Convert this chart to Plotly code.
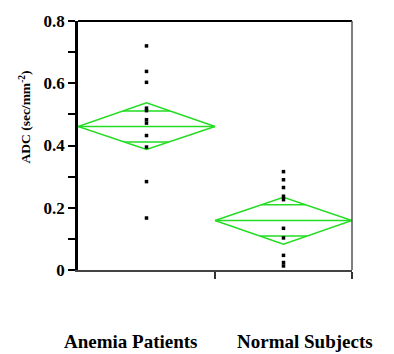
import plotly.graph_objects as go

groups = ["Anemia Patients", "Normal Subjects"]
group_pos = [0.5, 1.5]
anemia_adc = [0.720, 0.638, 0.603, 0.520, 0.512, 0.483, 0.472, 0.432, 0.395, 0.284, 0.167]
normal_adc = [0.316, 0.290, 0.265, 0.237, 0.226, 0.134, 0.103, 0.047, 0.024, 0.013]
means = [0.461, 0.159]
ci_upper = [0.537, 0.234]
ci_lower = [0.387, 0.083]
overlap_hi = [0.511, 0.210]
overlap_lo = [0.411, 0.109]
y_tickvals = [0, 0.1, 0.2, 0.3, 0.4, 0.5, 0.6, 0.7, 0.8]
y_ticktext = ["0", " ", "0.2", " ", "0.4", " ", "0.6", " ", "0.8"]

GREEN = "rgb(34,221,34)"
FONT = "Liberation Serif"

fig = go.Figure()

half_w = 0.5
for i, pos in enumerate(group_pos):
    m, hi, lo = means[i], ci_upper[i], ci_lower[i]
    fig.add_trace(go.Scatter(
        x=[pos - half_w, pos, pos + half_w, pos, pos - half_w],
        y=[m, hi, m, lo, m],
        mode="lines", line=dict(color=GREEN, width=1.5),
        hoverinfo="skip", showlegend=False))
    fig.add_trace(go.Scatter(
        x=[pos - half_w, pos + half_w], y=[m, m],
        mode="lines", line=dict(color=GREEN, width=1.5),
        hoverinfo="skip", showlegend=False))
    for yv, ref in ((overlap_hi[i], hi), (overlap_lo[i], lo)):
        frac = 1 - abs(yv - m) / abs(ref - m)
        fig.add_trace(go.Scatter(
            x=[pos - half_w * frac, pos + half_w * frac], y=[yv, yv],
            mode="lines", line=dict(color=GREEN, width=1.5),
            hoverinfo="skip", showlegend=False))

for pos, vals in zip(group_pos, [anemia_adc, normal_adc]):
    fig.add_trace(go.Scatter(
        x=[pos] * len(vals), y=vals, mode="markers",
        marker=dict(symbol="square", size=3.5, color="black", line=dict(width=0)),
        showlegend=False))

fig.update_layout(
    width=394, height=354,
    margin=dict(l=78, r=42, t=17, b=84),
    paper_bgcolor="white", plot_bgcolor="white",
    font=dict(family=FONT, color="black"),
    xaxis=dict(range=[0, 2], tickvals=[1, 2], ticktext=[" ", " "],
               ticks="outside", ticklen=7, tickwidth=1.5, tickcolor="#333",
               showline=True, linecolor="#444", linewidth=1.5,
               showgrid=False, zeroline=False, fixedrange=True),
    yaxis=dict(range=[0, 0.8], tickvals=y_tickvals, ticktext=y_ticktext,
               ticks="outside", ticklen=7, tickwidth=2, tickcolor="black",
               tickfont=dict(family=FONT, size=17, color="black", weight="bold"),
               showline=True, linecolor="black", linewidth=2.5,
               showgrid=False, zeroline=False, fixedrange=True),
    shapes=[
        dict(type="line", xref="paper", yref="paper", x0=0, x1=1, y0=1, y1=1,
             line=dict(color="black", width=2)),
        dict(type="line", xref="paper", yref="paper", x0=1, x1=1, y0=0, y1=1,
             line=dict(color="#555", width=1.5)),
    ],
    annotations=[
        dict(text="ADC (sec/mm<sup>-2</sup>)", xref="paper", yref="paper",
             x=-0.193, y=0.613, xanchor="center", yanchor="middle",
             textangle=-90, showarrow=False,
             font=dict(family=FONT, size=13.5, color="black", weight="bold")),
        dict(text=groups[0], xref="paper", yref="paper", x=0.193, y=-0.289,
             xanchor="center", yanchor="middle",
             showarrow=False, font=dict(family=FONT, size=19, color="black", weight="bold")),
        dict(text=groups[1], xref="paper", yref="paper", x=0.828, y=-0.289,
             xanchor="center", yanchor="middle",
             showarrow=False, font=dict(family=FONT, size=19, color="black", weight="bold")),
    ],
)

fig.write_html("out.html", config={"displayModeBar": False},
               post_script="document.body.style.margin='0';")
